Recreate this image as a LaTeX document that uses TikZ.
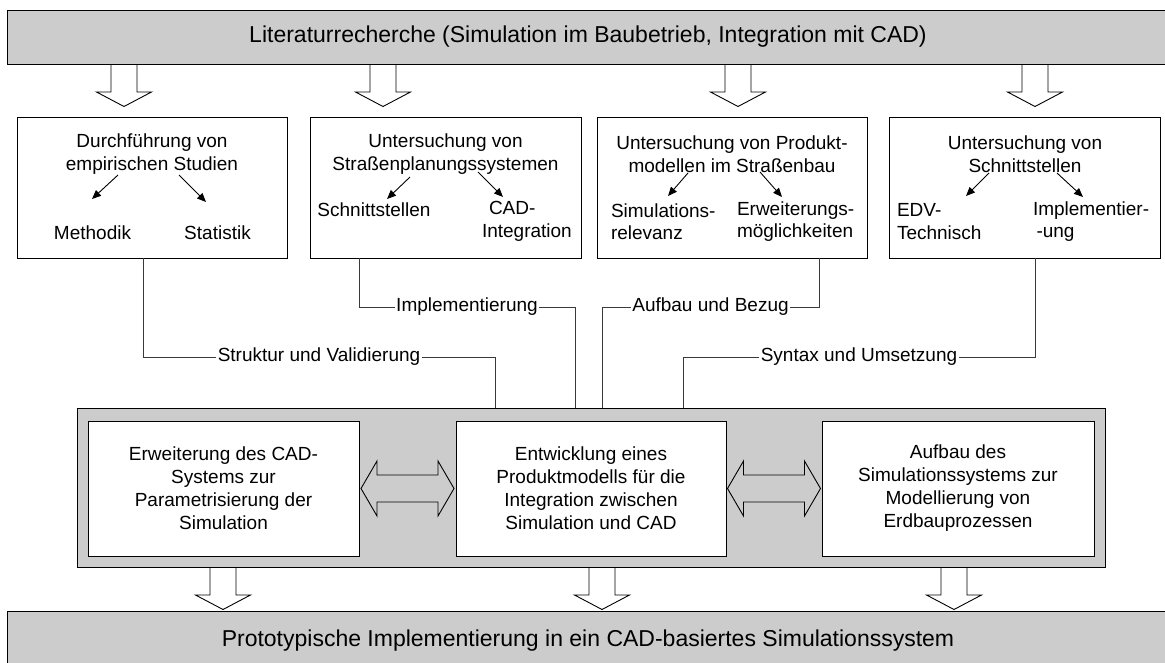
\documentclass[tikz,border=0pt]{standalone}
\usepackage{fontspec}
\setmainfont{Liberation Sans}
\usetikzlibrary{arrows.meta,calc}
\definecolor{barfill}{HTML}{CCCCCC}
\definecolor{wire}{HTML}{3A3A3A}
\begin{document}
\begin{tikzpicture}[x=1pt,y=-1pt,
  every node/.style={inner sep=0pt,outer sep=0pt},
  bar/.style={draw=black,line width=1pt,fill=barfill,anchor=north west,
    font=\fontsize{23}{27}\selectfont},
  tbox/.style={draw=black,line width=1pt,fill=white,anchor=north west,minimum height=141},
  frame/.style={draw=black,line width=1pt,fill=barfill,anchor=north west},
  ibox/.style={draw=black,line width=1pt,fill=white,anchor=north west,minimum height=135,
    align=center,font=\fontsize{19}{23}\selectfont},
  txt/.style={font=\fontsize{19}{22.5}\selectfont},
  lbl/.style={fill=white,inner xsep=1.5pt,inner ysep=1pt,font=\fontsize{19}{22.5}\selectfont},
  wireline/.style={draw=wire,line width=0.9pt},
  subarrow/.style={draw=black,line width=0.9pt,-{Triangle[length=9pt,width=7.5pt]}},
  hollowdown/.pic={
    \draw[line width=0.9pt] (-13,0) -- (-13,28) -- (-27.5,28) -- (0,42.5)
      -- (27.5,28) -- (13,28) -- (13,0);
  },
  hollowboth/.pic={
    \draw[line width=0.9pt] (-46.5,0) -- (-30.5,-27.5) -- (-30.5,-13.5) -- (30.5,-13.5)
      -- (30.5,-27.5) -- (46.5,0) -- (30.5,27.5) -- (30.5,13.5) -- (-30.5,13.5)
      -- (-30.5,27.5) -- cycle;
  },
]
\useasboundingbox (0,0) rectangle (1165,662);
\clip (0,0) rectangle (1165,662);

% literature survey bar and its four arrows
\node[bar,minimum width=1162,minimum height=54] (lit) at (7,10)
  {Literaturrecherche (Simulation im Baubetrieb, Integration mit CAD)};
\pic at (124,64) {hollowdown};
\pic at (383,64) {hollowdown};
\pic at (738,64) {hollowdown};
\pic at (1035,64) {hollowdown};

% four study boxes
\node[tbox,minimum width=270] (b1) at (17,117) {};
\node[tbox,minimum width=271] (b2) at (310,117) {};
\node[tbox,minimum width=270] (b3) at (597,117) {};
\node[tbox,minimum width=271] (b4) at (889,117) {};

% box 1
\node[txt,align=center] (t1) at (152,154) {Durchführung von\\empirischen Studien};
\node[txt] (m1) at (92.5,233) {Methodik};
\node[txt] (s1) at (217.5,233) {Statistik};
\coordinate (a1s) at (118,175); \coordinate (a1e) at (92,199);
\coordinate (a2s) at (179,175); \coordinate (a2e) at (206,202);
\draw[subarrow] (a1s) -- (a1e);
\draw[subarrow] (a2s) -- (a2e);

% box 2
\node[txt,align=center] (t2) at (445.5,154) {Untersuchung von\\Straßenplanungssystemen};
\node[txt] (m2) at (374,210) {Schnittstellen};
\node[txt,align=left,anchor=west] (s2) at (482,221.5) {\hspace*{7pt}CAD-\\Integration};
\coordinate (a3s) at (410,177); \coordinate (a3e) at (387,199);
\coordinate (a4s) at (478,172); \coordinate (a4e) at (503,197);
\draw[subarrow] (a3s) -- (a3e);
\draw[subarrow] (a4s) -- (a4e);

% box 3
\node[txt,align=center] (t3) at (732,154) {Untersuchung von Produkt-\\modellen im Straßenbau};
\node[txt,align=left,anchor=west] (m3) at (611,221.5) {Simulations-\\relevanz};
\node[txt,align=left,anchor=west] (s3) at (737,221.5) {Erweiterungs-\\möglichkeiten};
\coordinate (a5s) at (688,173); \coordinate (a5e) at (668,196);
\coordinate (a6s) at (760,172); \coordinate (a6e) at (782,197);
\draw[subarrow] (a5s) -- (a5e);
\draw[subarrow] (a6s) -- (a6e);

% box 4
\node[txt,align=center] (t4) at (1025,154) {Untersuchung von\\Schnittstellen};
\node[txt,align=left,anchor=west] (m4) at (897,221.5) {EDV-\\Technisch};
\node[txt,align=left,anchor=west] (s4) at (1033,221.5) {Implementier-\\\hspace*{3.5pt}-ung};
\coordinate (a7s) at (989,173); \coordinate (a7e) at (966,196);
\coordinate (a8s) at (1057,173); \coordinate (a8e) at (1083,197);
\draw[subarrow] (a7s) -- (a7e);
\draw[subarrow] (a8s) -- (a8e);

% development frame with its three work packages
\node[frame,minimum width=1028,minimum height=159] (cont) at (77,408) {};
\node[ibox,minimum width=271] (in1) at (88,421)
  {Erweiterung des CAD-\\Systems zur\\Parametrisierung der\\Simulation};
\node[ibox,minimum width=270] (in2) at (456,421)
  {Entwicklung eines\\Produktmodells für die\\Integration zwischen\\Simulation und CAD};
\node[ibox,minimum width=272] (in3) at (822,421)
  {Aufbau des\\Simulationssystems zur\\Modellierung von\\Erdbauprozessen};
\pic at ($(in1.east)!0.5!(in2.west)$) {hollowboth};
\pic at ($(in2.east)!0.5!(in3.west)$) {hollowboth};

% labelled links from the studies to the frame
\draw[wireline] ([xshift=126pt]b1.south west) -- ++(0,99)
  -| node[lbl,pos=0.25] {Struktur und Validierung} ([xshift=418pt]cont.north west);
\draw[wireline] ([xshift=49pt]b2.south west) -- ++(0,49)
  -| node[lbl,pos=0.25] {Implementierung} ([xshift=498pt]cont.north west);
\draw[wireline] ([xshift=222pt]b3.south west) -- ++(0,49)
  -| node[lbl,pos=0.25] {Aufbau und Bezug} ([xshift=525pt]cont.north west);
\draw[wireline] ([xshift=146pt]b4.south west) -- ++(0,99)
  -| node[lbl,pos=0.25] {Syntax und Umsetzung} ([xshift=606pt]cont.north west);

% prototype bar
\pic at (223,567) {hollowdown};
\pic at (602,567) {hollowdown};
\pic at (954,567) {hollowdown};
\node[bar,minimum width=1162,minimum height=60] (proto) at (7,611)
  {Prototypische Implementierung in ein CAD-basiertes Simulationssystem};
\end{tikzpicture}
\end{document}
